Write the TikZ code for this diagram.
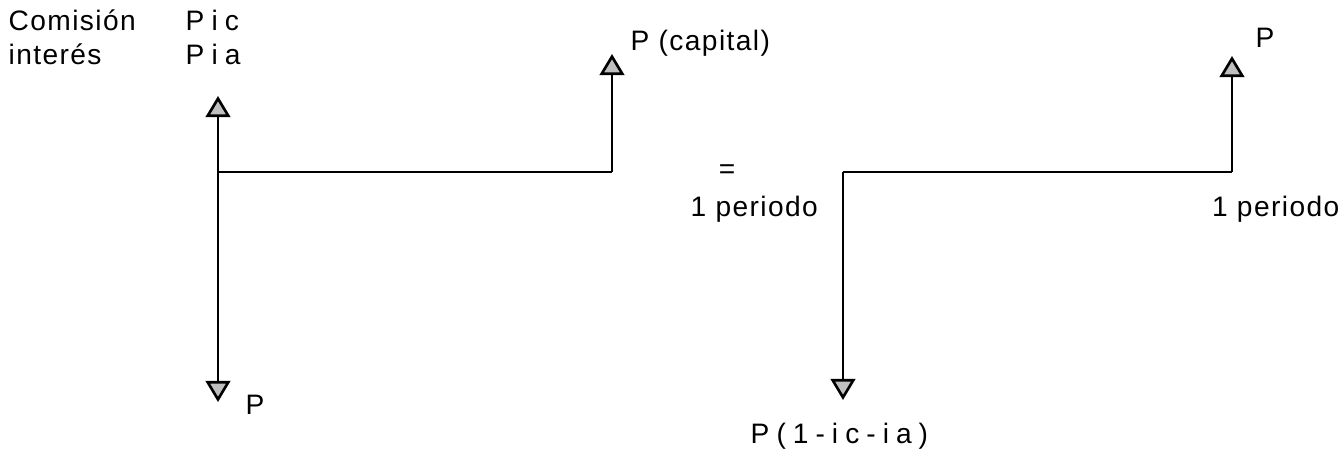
\documentclass[tikz,border=0pt]{standalone}
\usepackage{fontspec}
\setmainfont{Liberation Sans}[LetterSpace=5]
\usetikzlibrary{arrows.meta,positioning}

\begin{document}
\begin{tikzpicture}[x=0.01cm,y=-0.01cm,
  lbl/.style={font=\fontsize{8}{10}\selectfont,inner sep=0pt,anchor=base west},
  wide/.style={font=\fontsize{8}{10}\selectfont\addfontfeature{LetterSpace=25}},
  axis/.style={line width=0.75pt},
  flow/.style={-{Triangle[length=6pt,width=7pt,fill=black!25]},line width=0.75pt}
]
  \useasboundingbox (0,0) rectangle (1344,451);
  % Left time line
  \coordinate (a0) at (218,172);
  \coordinate (a1) at (612,172);
  \coordinate (aup) at (218,96);
  \coordinate (adown) at (218,402);
  \coordinate (acap) at (612,54);
  % Right time line
  \coordinate (b0) at (843,172);
  \coordinate (b1) at (1232,172);
  \coordinate (bdown) at (843,400);
  \coordinate (bcap) at (1232,56);
  \draw[axis] (a0) -- (a1);
  \draw[axis] (b0) -- (b1);
  % Arrows
  \foreach \a/\b in {a0/aup, a0/adown, a1/acap, b0/bdown, b1/bcap} {
    \draw[flow] (\a) -- (\b);
  }
  % Labels
  \node[lbl] (com) at (8,30) {Comisión};
  \node[lbl] (int) at (8,64) {interés};
  \node[lbl,wide] (pic) at (185,30) {Pic};
  \node[lbl,wide] (pia) at (185,64) {Pia};
  \node[lbl] (pa) at (245,414) {P};
  \node[lbl] (pcap) at (630,50) {P (capital)};
  \node[inner sep=0pt,font=\fontsize{8}{10}\selectfont] (eq) at (727,172) {=};
  \node[lbl] (per1) at (690,216) {1 periodo};
  \node[lbl,wide] (pb) at (750,443) {P(1-ic-ia)};
  \node[lbl] (pright) at (1255,47) {P};
  \node[lbl,anchor=base east] (per2) at (1340,216) {1 periodo};
\end{tikzpicture}
\end{document}
